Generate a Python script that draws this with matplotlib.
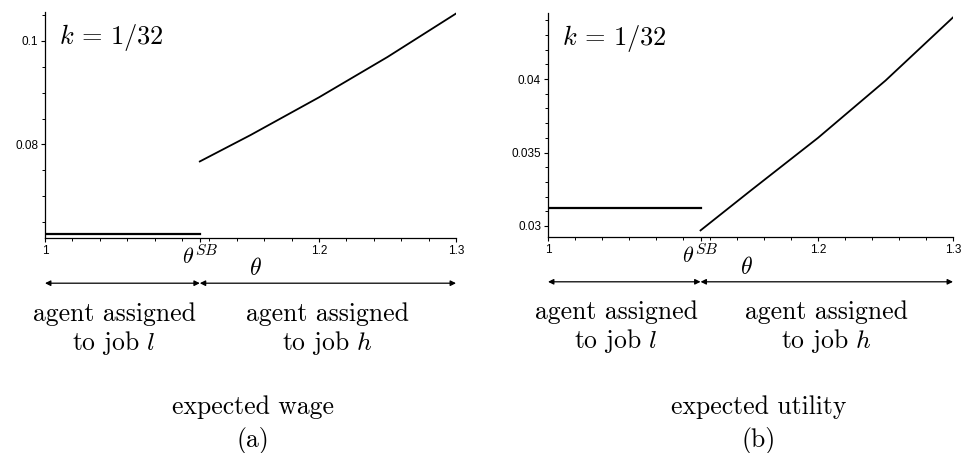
import numpy as np
import matplotlib
matplotlib.use("Agg")
import matplotlib.pyplot as plt
from matplotlib.ticker import FixedLocator, MultipleLocator

plt.rcParams['mathtext.fontset'] = 'cm'
plt.rcParams['font.family'] = ['Liberation Sans', 'DejaVu Sans']

theta_sb = 1.113

# (a) expected wage
wage_l_theta = [1.0, 1.113]
wage_l = [0.0627, 0.0627]
wage_h_theta = [1.113, 1.15, 1.2, 1.25, 1.3]
wage_h = [0.0767, 0.0818, 0.0891, 0.0969, 0.1053]

# (b) expected utility
util_l_theta = [1.0, 1.113]
util_l = [0.03125, 0.03125]
util_h_theta = [1.113, 1.15, 1.2, 1.25, 1.3]
util_h = [0.0297, 0.0324, 0.0360, 0.0399, 0.0442]

xtick_vals = [1.0, theta_sb, 1.2, 1.3]
xtick_labels = ['1', r'$\theta^{SB}$', '1.2', '1.3']

fig = plt.figure(figsize=(9.63, 4.53), dpi=100)
W, H = 963, 453
TXT = 18.5


def panel(left, right, top, bottom, ylim, yticks, ylabels, xl, yl, xh, yh, lab_x):
    ax = fig.add_axes([left / W, 1 - bottom / H, (right - left) / W, (bottom - top) / H])
    ax.plot(xl, yl, color='black', lw=1.6)
    ax.plot(xh, yh, color='black', lw=1.3)
    ax.set_xlim(1.0, 1.3)
    ax.set_ylim(*ylim)
    for s in ['top', 'right']:
        ax.spines[s].set_visible(False)
    ax.spines['left'].set_linewidth(0.9)
    ax.spines['bottom'].set_linewidth(0.9)
    ax.xaxis.set_major_locator(FixedLocator(xtick_vals))
    ax.set_xticklabels(xtick_labels)
    for lab in ax.get_xticklabels():
        if 'theta' in lab.get_text():
            lab.set_fontsize(16)
        else:
            lab.set_fontsize(8.5)
    ax.xaxis.set_minor_locator(MultipleLocator(0.02))
    ax.yaxis.set_major_locator(FixedLocator(yticks))
    ax.set_yticklabels(ylabels, fontsize=8.5)
    ax.tick_params(which='major', length=3, width=0.8, pad=2)
    ax.tick_params(which='minor', length=2, width=0.7)
    ax.set_xlabel(r'$\theta$', fontsize=17)
    ax.xaxis.set_label_coords(lab_x, -0.09)
    ax.text(0.035, 0.955, r'$k\,=\,1/32$', transform=ax.transAxes, fontsize=19,
            va='top', ha='left', bbox=dict(facecolor='white', edgecolor='none', pad=1))

    tr = ax.get_xaxis_transform()
    arrow_y = -0.2
    for x0, x1 in [(1.0, theta_sb), (theta_sb, 1.3)]:
        ax.annotate('', xy=(x1, arrow_y), xytext=(x0, arrow_y), xycoords=tr, textcoords=tr,
                    arrowprops=dict(arrowstyle='<|-|>', color='black', lw=0.9,
                                    mutation_scale=8, shrinkA=0, shrinkB=0),
                    annotation_clip=False)
    for xc, job in [((1.0 + theta_sb) / 2 - 0.006, r'$l$'), ((theta_sb + 1.3) / 2, r'$h$')]:
        ax.text(xc, -0.335, 'agent assigned', transform=tr, ha='center', va='center',
                fontsize=TXT, family='cmr10')
        ax.text(xc, -0.465, 'to job ' + job, transform=tr, ha='center', va='center',
                fontsize=TXT, family='cmr10')
    return ax


ax1 = panel(45, 456, 12, 238, (0.0619, 0.1056), [0.08, 0.1], ['0.08', '0.1'],
            wage_l_theta, wage_l, wage_h_theta, wage_h, 0.511)
ax1.yaxis.set_minor_locator(MultipleLocator(0.005))
ax2 = panel(548, 953, 13, 237, (0.02925, 0.0445), [0.03, 0.035, 0.04],
            ['0.03', '0.035', '0.04'],
            util_l_theta, util_l, util_h_theta, util_h, 0.49)
ax2.yaxis.set_minor_locator(MultipleLocator(0.001))

fig.text(253 / W, 1 - 407 / H, 'expected wage', ha='center', va='center', fontsize=TXT, family='cmr10')
fig.text(253 / W, 1 - 440 / H, '(a)', ha='center', va='center', fontsize=TXT, family='cmr10')
fig.text(759 / W, 1 - 407 / H, 'expected utility', ha='center', va='center', fontsize=TXT, family='cmr10')
fig.text(759 / W, 1 - 440 / H, '(b)', ha='center', va='center', fontsize=TXT, family='cmr10')

fig.savefig('out.png', dpi=100)
